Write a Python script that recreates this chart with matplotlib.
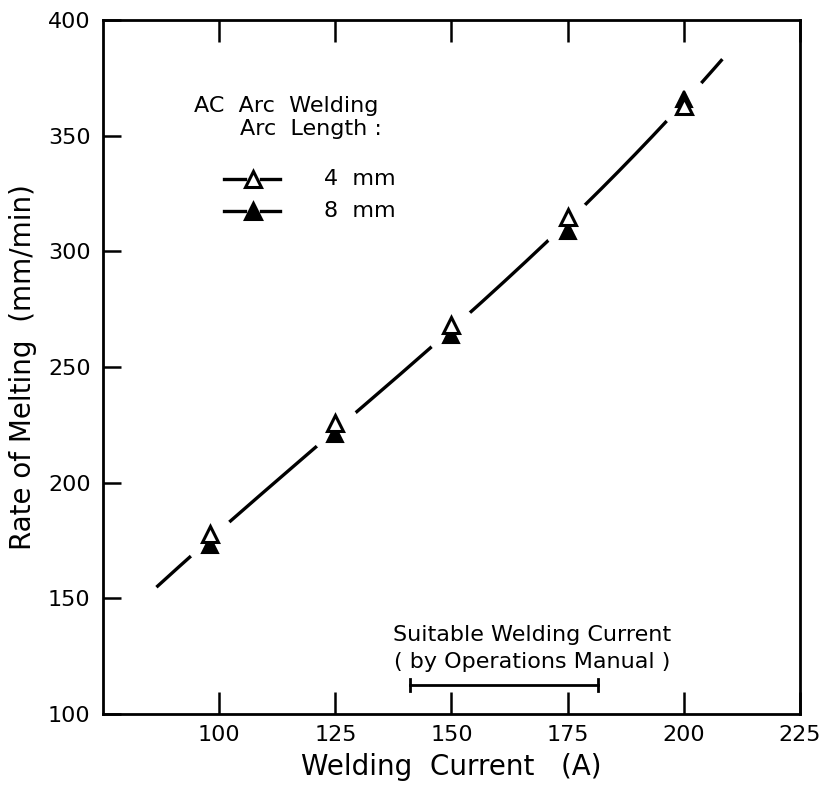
import matplotlib
matplotlib.use("Agg")
import matplotlib.pyplot as plt
import numpy as np

# Data
current = [98, 125, 150, 175, 200]
melt_4mm = [178, 226, 268, 315, 363]
melt_8mm = [173, 221, 264, 309, 366]
curve_x = [86.5, 98, 112, 125, 137, 150, 162, 175, 187, 200, 208.3]
curve_y = [155, 175.5, 199.5, 223, 244, 266, 288.5, 312, 337, 364.5, 383]
suitable_range = [141, 181.5]
xticks = [100, 125, 150, 175, 200, 225]
yticks = [100, 150, 200, 250, 300, 350, 400]

plt.rcParams['font.family'] = ['DejaVu Sans']
fig = plt.figure(figsize=(8.32, 7.88), dpi=100)
ax = fig.add_axes([0.1238, 0.0939, 0.8377, 0.8807])

# smooth drawn curve through the read points
coef = np.polyfit(curve_x, curve_y, 3)
xs = np.linspace(curve_x[0], curve_x[-1], 300)
ax.plot(xs, np.polyval(coef, xs), color='black', lw=2.4, zorder=1, solid_capstyle='butt')

# white gaps around marker pairs
mid = [(a + b) / 2 for a, b in zip(melt_4mm, melt_8mm)]
ax.plot(current, mid, ls='none', marker='o', ms=36, mfc='white', mec='white', zorder=2)
ax.plot(current, melt_4mm, ls='none', marker='^', ms=12, mfc='white', mec='black', mew=2.2, zorder=4)
ax.plot(current, melt_8mm, ls='none', marker='^', ms=12, mfc='black', mec='black', mew=1.5, zorder=3)

# suitable current bar
yb = 112.5
ax.plot(suitable_range, [yb, yb], color='black', lw=2)
for xv in suitable_range:
    ax.plot([xv, xv], [yb - 2.5, yb + 2.5], color='black', lw=2)
ax.text(167.3, 134.2, "Suitable Welding Current", ha='center', va='center', fontsize=16)
ax.text(167.3, 122.5, "( by Operations Manual )", ha='center', va='center', fontsize=16)

# legend
ax.text(94.5, 363, "AC  Arc  Welding", ha='left', va='center', fontsize=16)
ax.text(104.5, 353, "Arc  Length :", ha='left', va='center', fontsize=16)
for yv, fill, lab in [(331.3, 'white', '4  mm'), (317.5, 'black', '8  mm')]:
    ax.plot([101, 105.5], [yv, yv], color='black', lw=2.4)
    ax.plot([109, 113], [yv, yv], color='black', lw=2.4)
    ax.plot([107.3], [yv], marker='^', ms=12, mfc=fill, mec='black', mew=2.2)
    ax.text(122.5, yv, lab, ha='left', va='center', fontsize=16)

ax.set_xlim(75, 225)
ax.set_ylim(100, 400)
ax.set_xticks(xticks)
ax.set_xticklabels([str(v) for v in xticks])
ax.set_yticks(yticks)
ax.set_yticklabels([str(v) for v in yticks])
ax.tick_params(axis='x', direction='in', length=16, width=1.8, labelsize=16, pad=8, top=True)
ax.tick_params(axis='y', direction='in', length=13, width=1.8, labelsize=16, pad=9)
for s in ax.spines.values():
    s.set_linewidth(2)
ax.set_xlabel("Welding  Current   (A)", fontsize=20, labelpad=6)
ax.set_ylabel("Rate of Melting  (mm/min)", fontsize=20, labelpad=8)

fig.savefig("out.png", dpi=100)
